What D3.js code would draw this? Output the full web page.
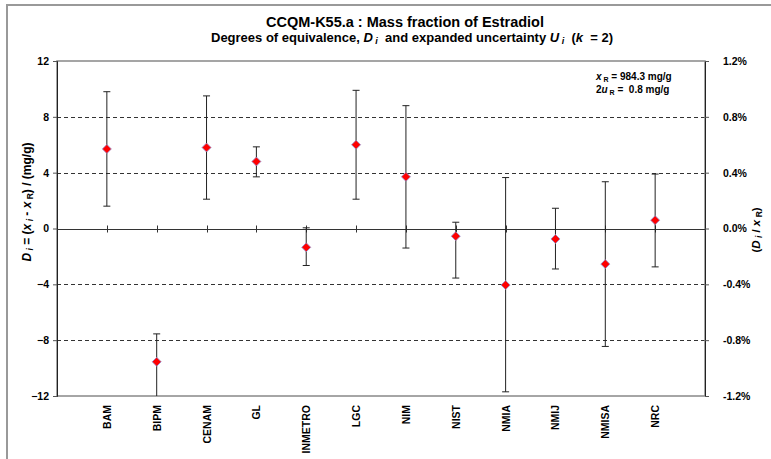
<!DOCTYPE html>
<html>
<head>
<meta charset="utf-8">
<script src="https://cdn.jsdelivr.net/npm/d3@7"></script>
<style>
  body { margin: 0; background: #fff; }
  text { font-family: "Liberation Sans", Arial, sans-serif; font-weight: bold; }
</style>
</head>
<body>
<svg id="chart"></svg>
<script>
// labs and their degrees of equivalence (mg/g)
const labs = ['BAM', 'BIPM', 'CENAM', 'GL', 'INMETRO', 'LGC', 'NIM', 'NIST', 'NMIA', 'NMIJ', 'NMISA', 'NRC'];
const di = [5.7, -9.55, 5.8, 4.8, -1.35, 6.0, 3.7, -0.55, -4.05, -0.75, -2.55, 0.6];
const upper = [9.8, -7.55, 9.5, 5.85, 0.05, 9.9, 8.8, 0.45, 3.65, 1.45, 3.35, 3.9];
const lower = [1.6, -12.5, 2.1, 3.7, -2.65, 2.1, -1.4, -3.55, -11.7, -2.9, -8.45, -2.75];
const leftTicks = [-12, -8, -4, 0, 4, 8, 12];
const rightTicks = [-1.2, -0.8, -0.4, 0, 0.4, 0.8, 1.2];
const gridVals = [-8, -4, 4, 8];

const width = 771, height = 459;
const svg = d3.select('#chart').attr('width', width).attr('height', height);

const plot = { left: 57, right: 705, top: 61, bottom: 396 };

const x = d3.scaleLinear().domain([0, labs.length + 1]).range([plot.left, plot.right]);
const y = d3.scaleLinear().domain([-12, 12]).range([plot.bottom, plot.top]);
const yR = d3.scaleLinear().domain([-1.2, 1.2]).range([plot.bottom, plot.top]);

// outer frame (cut off on right/bottom)
svg.append('rect')
  .attr('x', 7).attr('y', 5)
  .attr('width', 800).attr('height', 500)
  .attr('fill', 'none').attr('stroke', '#999').attr('stroke-width', 2);

// titles
svg.append('text')
  .attr('x', 405).attr('y', 27)
  .attr('text-anchor', 'middle')
  .style('font-size', '14.5px')
  .text('CCQM-K55.a : Mass fraction of Estradiol');

const sub = svg.append('text')
  .attr('x', 412).attr('y', 42)
  .attr('text-anchor', 'middle')
  .attr('xml:space', 'preserve')
  .style('white-space', 'pre')
  .style('font-size', '13px');
sub.append('tspan').text('Degrees of equivalence, ');
sub.append('tspan').attr('font-style', 'italic').text('D');
sub.append('tspan').attr('font-style', 'italic').attr('dy', 2).style('font-size', '9px').text(' i');
sub.append('tspan').attr('dy', -2).text('  and expanded uncertainty ');
sub.append('tspan').attr('font-style', 'italic').text('U');
sub.append('tspan').attr('font-style', 'italic').attr('dy', 2).style('font-size', '9px').text(' i');
sub.append('tspan').attr('dy', -2).text('  (');
sub.append('tspan').attr('font-style', 'italic').text('k');
sub.append('tspan').text('  = 2)');

// gridlines
svg.append('g')
  .selectAll('line')
  .data(gridVals)
  .join('line')
  .attr('x1', plot.left).attr('x2', plot.right)
  .attr('y1', (d) => Math.round(y(d)) + 0.5).attr('y2', (d) => Math.round(y(d)) + 0.5)
  .attr('stroke', '#333').attr('stroke-dasharray', '4,3');

// plot area box
svg.append('rect')
  .attr('x', plot.left).attr('y', plot.top)
  .attr('width', plot.right - plot.left).attr('height', plot.bottom - plot.top)
  .attr('fill', 'none').attr('stroke', '#888').attr('stroke-width', 1.5);

// left axis
svg.append('g')
  .attr('transform', `translate(${plot.left},0)`)
  .call(d3.axisLeft(y).tickValues(leftTicks).tickSize(4).tickPadding(4).tickFormat(d3.format('d')))
  .call((g) => g.select('.domain').attr('stroke', '#222'))
  .call((g) => g.selectAll('.tick line').attr('stroke', '#555'))
  .call((g) => g.selectAll('text').style('font-size', '10.5px').attr('fill', '#000').attr('font-family', null));

// right axis
svg.append('g')
  .attr('transform', `translate(${plot.right},0)`)
  .call(d3.axisRight(yR).tickValues(rightTicks).tickSize(4).tickPadding(14).tickFormat((d) => d.toFixed(1) + '%'))
  .call((g) => g.select('.domain').attr('stroke', '#222'))
  .call((g) => g.selectAll('.tick line').attr('stroke', '#555'))
  .call((g) => g.selectAll('text').style('font-size', '10.5px').attr('fill', '#000').attr('font-family', null));

// zero line with category ticks
svg.append('line')
  .attr('x1', plot.left).attr('x2', plot.right)
  .attr('y1', Math.round(y(0)) + 0.5).attr('y2', Math.round(y(0)) + 0.5)
  .attr('stroke', '#333');

svg.append('g')
  .selectAll('line')
  .data(labs)
  .join('line')
  .attr('x1', (d, i) => Math.round(x(i + 1)) + 0.5).attr('x2', (d, i) => Math.round(x(i + 1)) + 0.5)
  .attr('y1', y(0) - 3).attr('y2', y(0) + 4)
  .attr('stroke', '#333');

// category labels
svg.append('g')
  .selectAll('text')
  .data(labs)
  .join('text')
  .attr('transform', (d, i) => `translate(${x(i + 1) + 4},405) rotate(-90)`)
  .attr('text-anchor', 'end')
  .style('font-size', '10.5px')
  .text((d) => d);

// axis titles
const yl = svg.append('text')
  .attr('transform', 'translate(31,202) rotate(-90)')
  .attr('text-anchor', 'middle')
  .style('font-size', '12px');
yl.append('tspan').attr('font-style', 'italic').text('D');
yl.append('tspan').attr('font-style', 'italic').attr('dy', 2).style('font-size', '8.5px').text(' i');
yl.append('tspan').attr('dy', -2).text(' = (');
yl.append('tspan').attr('font-style', 'italic').text('x');
yl.append('tspan').attr('font-style', 'italic').attr('dy', 2).style('font-size', '8.5px').text(' i');
yl.append('tspan').attr('dy', -2).text(' - ');
yl.append('tspan').attr('font-style', 'italic').text('x');
yl.append('tspan').attr('dy', 2).style('font-size', '8.5px').text(' R');
yl.append('tspan').attr('dy', -2).text(') / (mg/g)');

const yr = svg.append('text')
  .attr('transform', 'translate(760,230) rotate(-90)')
  .attr('text-anchor', 'middle')
  .style('font-size', '11.5px');
yr.append('tspan').text('(');
yr.append('tspan').attr('font-style', 'italic').text('D');
yr.append('tspan').attr('font-style', 'italic').attr('dy', 2).style('font-size', '8.5px').text(' i');
yr.append('tspan').attr('dy', -2).text(' / ');
yr.append('tspan').attr('font-style', 'italic').text('x');
yr.append('tspan').attr('dy', 2).style('font-size', '8.5px').text(' R');
yr.append('tspan').attr('dy', -2).text(')');

// reference value note
const n1 = svg.append('text').attr('x', 596).attr('y', 80).style('font-size', '10px');
n1.append('tspan').attr('font-style', 'italic').text('x');
n1.append('tspan').attr('dy', 2).style('font-size', '7px').text(' R');
n1.append('tspan').attr('dy', -2).text(' = 984.3 mg/g');
const n2 = svg.append('text').attr('x', 596).attr('y', 93)
  .style('white-space', 'pre').style('font-size', '10px');
n2.append('tspan').text('2');
n2.append('tspan').attr('font-style', 'italic').text('u');
n2.append('tspan').attr('dy', 2).style('font-size', '7px').text(' R');
n2.append('tspan').attr('dy', -2).text(' =  0.8 mg/g');

// error bars, clipped to plot area
svg.append('clipPath').attr('id', 'clip')
  .append('rect')
  .attr('x', plot.left).attr('y', plot.top)
  .attr('width', plot.right - plot.left).attr('height', plot.bottom - plot.top);

const bars = svg.append('g').attr('clip-path', 'url(#clip)')
  .selectAll('g')
  .data(labs.map((lab, i) => ({ lab, i, d: di[i], hi: upper[i], lo: lower[i] })))
  .join('g');

bars.append('line')
  .attr('x1', (d) => x(d.i + 1)).attr('x2', (d) => x(d.i + 1))
  .attr('y1', (d) => y(d.hi)).attr('y2', (d) => y(d.lo))
  .attr('stroke', '#222');

bars.append('line')
  .attr('x1', (d) => x(d.i + 1) - 3.5).attr('x2', (d) => x(d.i + 1) + 3.5)
  .attr('y1', (d) => y(d.hi)).attr('y2', (d) => y(d.hi))
  .attr('stroke', '#222');

bars.append('line')
  .attr('x1', (d) => x(d.i + 1) - 3.5).attr('x2', (d) => x(d.i + 1) + 3.5)
  .attr('y1', (d) => y(d.lo)).attr('y2', (d) => y(d.lo))
  .attr('stroke', '#222');

// markers
svg.append('g')
  .selectAll('path')
  .data(di)
  .join('path')
  .attr('transform', (d, i) => `translate(${x(i + 1)},${y(d)})`)
  .attr('d', 'M0,-4.5L4.5,0L0,4.5L-4.5,0Z')
  .attr('fill', '#ff0000')
  .attr('stroke', '#9090d0')
  .attr('stroke-width', 0.8);
</script>
</body>
</html>
